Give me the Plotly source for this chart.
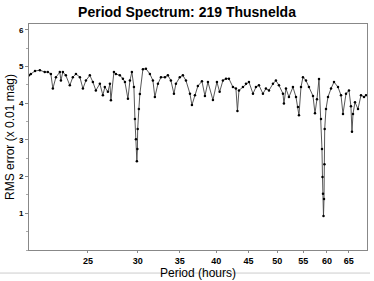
import plotly.graph_objects as go

period = [20.15, 20.29, 20.6, 20.97, 21.35, 21.59, 21.83, 21.99, 22.24, 22.56, 22.65, 22.81, 23.06, 23.4,
          23.66, 23.93, 24.28, 24.55, 24.82, 25.18, 25.46, 25.74, 26.12, 26.41, 26.6, 26.9, 27.1, 27.2,
          27.5, 27.7, 28.1, 28.42, 28.63, 28.95, 29.16, 29.37, 29.59, 29.7, 29.81, 29.91, 29.97, 30.0,
          30.13, 30.24, 30.58, 30.92, 31.37, 31.72, 31.95, 32.31, 32.67, 33.15, 33.51, 33.88, 34.26,
          34.51, 35.0, 35.4, 35.8, 36.33, 36.59, 37.0, 37.4, 37.96, 38.38, 38.8, 39.52, 40.1, 40.5,
          40.99, 41.45, 41.9, 42.52, 42.99, 43.23, 43.47, 44.11, 44.6, 45.09, 45.76, 46.26, 46.77,
          47.46, 47.98, 48.52, 49.23, 49.77, 50.32, 51.07, 51.25, 51.63, 52.2, 52.97, 53.56, 53.95,
          54.15, 54.55, 54.95, 55.56, 56.17, 57.0, 57.42, 57.84, 58.27, 58.7, 58.91, 59.02, 59.13,
          59.24, 59.35, 59.45, 59.5, 59.78, 60.22, 60.89, 61.56, 62.47, 63.16, 63.62, 64.33, 65.03,
          65.5, 65.75, 66.0, 66.48, 67.21, 67.96, 68.71, 69.21]
rms = [4.76, 4.80, 4.88, 4.90, 4.85, 4.85, 4.80, 4.40, 4.71, 4.85, 4.62, 4.85, 4.76, 4.49,
       4.71, 4.80, 4.71, 4.40, 4.62, 4.76, 4.58, 4.35, 4.53, 4.22, 4.44, 4.31, 4.53, 4.08,
       4.85, 4.80, 4.76, 4.67, 4.58, 4.12, 4.62, 4.85, 4.44, 3.57, 3.02, 2.42, 2.75, 3.30,
       3.84, 4.25, 4.93, 4.94, 4.80, 4.62, 4.17, 4.53, 4.71, 4.71, 4.76, 4.62, 4.26,
       4.53, 4.71, 4.76, 4.62, 4.26, 3.95, 4.22, 4.47, 4.60, 4.20, 4.58, 4.09, 4.58, 4.31,
       4.62, 4.67, 4.67, 4.44, 4.40, 3.79, 4.35, 4.44, 4.53, 4.58, 4.26, 4.44, 4.49,
       4.26, 4.40, 4.35, 4.53, 4.62, 4.49, 4.26, 3.99, 4.40, 4.17, 4.44, 4.17, 3.90,
       3.67, 4.44, 4.71, 4.62, 4.44, 4.20, 3.73, 4.11, 4.66, 3.57, 2.75, 1.99, 1.53,
       0.93, 1.39, 2.34, 3.30, 3.84, 4.17, 4.40, 4.58, 4.44, 4.22, 3.71, 4.26, 4.35,
       3.92, 3.22, 3.71, 4.03, 3.84, 4.22, 4.17, 4.22]

x_ticks = [25, 30, 35, 40, 45, 50, 55, 60, 65]
y_ticks = [1, 2, 3, 4, 5, 6]

fig = go.Figure()
fig.add_trace(go.Scatter(
    x=period, y=rms, mode="lines+markers",
    line=dict(color="#444444", width=0.9),
    marker=dict(color="black", size=2.5),
    showlegend=False,
))

fig.update_layout(
    width=374, height=281,
    margin=dict(l=29, r=7, t=24, b=31),
    paper_bgcolor="white", plot_bgcolor="white",
    font=dict(family="Arial", color="black"),
    title=dict(text="<b>Period Spectrum: 219 Thusnelda</b>", x=0.5, xanchor="center",
               y=0.957, yanchor="middle", font=dict(size=14, color="black")),
    xaxis=dict(
        type="log", range=[1.3043, 1.8418],
        tickvals=x_ticks, ticktext=[f"<b>{v}</b>" for v in x_ticks],
        tickfont=dict(size=9), ticks="outside", ticklen=2, tickcolor="#888",
        showgrid=False, zeroline=False,
        showline=True, linecolor="#888", linewidth=1, mirror=True,
        title=dict(text="Period (hours)", font=dict(size=12), standoff=1),
    ),
    yaxis=dict(
        range=[0, 6.16],
        tickvals=y_ticks, ticktext=[f"<b>{v}</b>" for v in y_ticks],
        tickfont=dict(size=8), ticks="outside", ticklen=3, tickcolor="#888",
        minor=dict(dtick=0.5, ticks="outside", ticklen=2, tickcolor="#aaa"),
        showgrid=False, zeroline=False,
        showline=True, linecolor="#888", linewidth=1, mirror=True,
        title=dict(text="RMS error (x 0.01 mag)", font=dict(size=12), standoff=1),
    ),
)

fig.add_shape(type="line", xref="paper", yref="paper",
              x0=-0.086, x1=1.009, y0=-0.102, y1=-0.102,
              line=dict(color="#cccccc", width=1))

fig.write_html("out.html", config={"displayModeBar": False},
               post_script="document.body.style.margin='0';")
